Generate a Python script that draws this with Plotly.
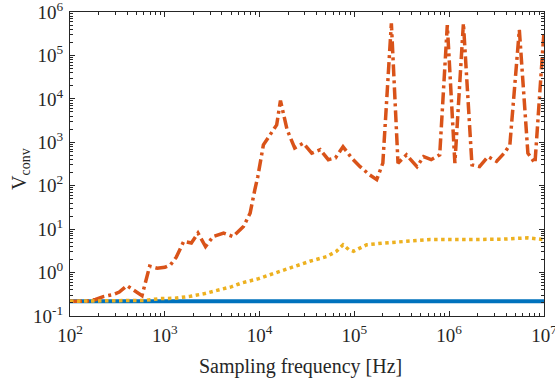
import plotly.graph_objects as go

# ---- data ----
freq_blue = [1e2, 1e7]
v_blue = [0.22, 0.22]

freq_orange = [100, 148, 186, 224, 282, 331, 398, 479, 575, 692, 832, 1000, 1148,
               1318, 1585, 1905, 2239, 2690, 3236, 4169, 5248, 6761, 7943, 8913,
               9550, 10965, 13183, 15136, 16596, 19498, 23442, 28840, 35481, 43652,
               53088, 63096, 75858, 93325, 114815, 144544, 171791, 199526, 245471,
               288403, 354813, 416869, 457088, 537032, 645654, 794328, 954993,
               1148154, 1412538, 1737801, 2089296, 2570396, 3162278, 3801894,
               4365158, 5495409, 6760830, 8035261, 1e7]
v_orange = [0.219, 0.219, 0.24, 0.28, 0.31, 0.355, 0.50, 0.38, 0.295, 1.40, 1.26,
            1.32, 1.51, 2.24, 5.25, 4.79, 8.13, 3.98, 6.76, 8.13, 6.76, 11.5, 23.4,
            81.3, 158, 871, 1585, 2512, 9120, 1950, 741, 955, 562, 676, 398, 437,
            794, 437, 275, 178, 138, 331, 549541, 331, 513, 331, 275, 468, 398, 513,
            501187, 331, 549541, 302, 275, 468, 363, 562, 871, 389045, 562, 331,
            354813]

freq_yellow = [100, 617, 891, 1288, 1862, 2570, 3548, 5012, 6457, 9772, 12882,
               20893, 33884, 51286, 64565, 75858, 87096, 97724, 134896, 204174,
               331131, 630957, 1659587, 3715352, 6760830, 1e7]
v_yellow = [0.219, 0.229, 0.251, 0.257, 0.285, 0.324, 0.389, 0.468, 0.575, 0.724,
            0.891, 1.29, 1.82, 2.34, 3.09, 4.37, 3.39, 3.09, 4.37, 4.79, 5.25, 5.75,
            5.75, 5.89, 6.31, 5.75]

x_exps = [2, 3, 4, 5, 6, 7]
y_exps = [-1, 0, 1, 2, 3, 4, 5, 6]
x_title = "Sampling frequency [Hz]"
y_title = "V<sub>conv</sub>"

FONT = "Liberation Serif, Times New Roman, serif"
AXC = "#262626"
EPS = 1e-4

fig = go.Figure()
fig.add_trace(go.Scatter(x=freq_blue, y=v_blue, mode="lines",
                         line=dict(color="#0072BD", width=4)))
fig.add_trace(go.Scatter(x=freq_orange, y=v_orange, mode="lines",
                         line=dict(color="#D95319", width=3.5, dash="12px,4px,3px,4px")))
fig.add_trace(go.Scatter(x=freq_yellow, y=v_yellow, mode="lines",
                         line=dict(color="#EDB120", width=3.5, dash="3.5px,3.5px")))


def minor_vals(exps):
    out = []
    for e in exps[:-1]:
        for k in range(2, 10):
            out.append(k * 10 ** e)
    return out


common = dict(type="log", tickmode="array", automargin=False,
              ticks="inside", ticklen=5, tickwidth=1, tickcolor=AXC,
              showline=True, linecolor=AXC, linewidth=1, mirror="ticks",
              showgrid=False, zeroline=False, ticklabeloverflow="allow",
              tickfont=dict(family=FONT, size=19, color=AXC))

fig.update_xaxes(range=[x_exps[0] - EPS, x_exps[-1] + EPS],
                 tickvals=[10 ** e for e in x_exps],
                 ticktext=["10<sup>%d</sup>" % e for e in x_exps],
                 minor=dict(tickmode="array", tickvals=minor_vals(x_exps),
                            ticks="inside", ticklen=3, tickcolor=AXC, showgrid=False),
                 ticklabelstandoff=2,
                 **common)
fig.update_yaxes(range=[y_exps[0] - EPS, y_exps[-1] + EPS],
                 tickvals=[10 ** e for e in y_exps],
                 ticktext=["10<sup>%d</sup>" % e for e in y_exps],
                 minor=dict(tickmode="array", tickvals=minor_vals(y_exps),
                            ticks="inside", ticklen=3, tickcolor=AXC, showgrid=False),
                 ticklabelstandoff=2,
                 **common)

fig.add_annotation(text=x_title, xref="paper", yref="paper",
                   x=(300.5 - 70) / 474, y=-(366 - 316) / 304,
                   xanchor="center", yanchor="middle", showarrow=False,
                   font=dict(family=FONT, size=20, color=AXC))
fig.add_annotation(text=y_title, xref="paper", yref="paper",
                   x=(20 - 70) / 474, y=1 - (169 - 12) / 304, textangle=-90,
                   xanchor="center", yanchor="middle", showarrow=False,
                   font=dict(family=FONT, size=20, color=AXC))

fig.update_layout(width=555, height=379, showlegend=False,
                  margin=dict(l=70, r=11, t=12, b=63, autoexpand=False),
                  plot_bgcolor="white", paper_bgcolor="white")

fig.write_html("out.html", config={"displayModeBar": False},
               post_script="document.body.style.margin='0';"
                           "document.body.style.overflow='hidden';")
